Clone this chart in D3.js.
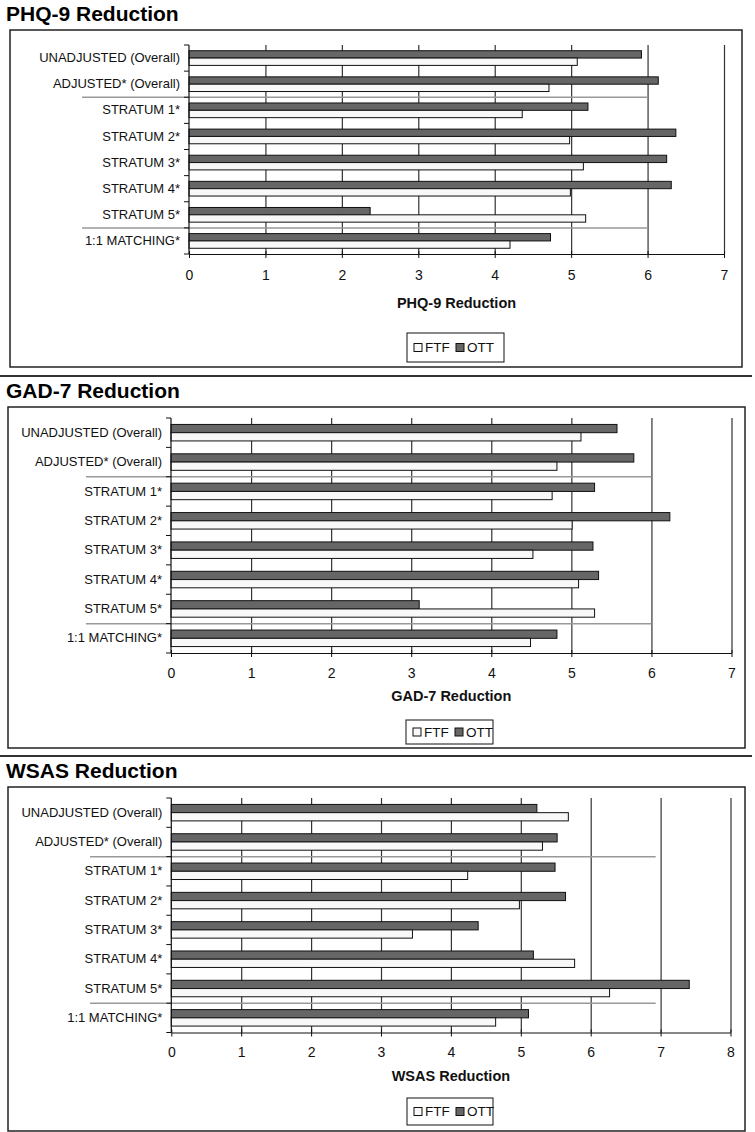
<!DOCTYPE html>
<html>
<head>
<meta charset="utf-8">
<script src="https://cdn.jsdelivr.net/npm/d3@7"></script>
<style>
	body { margin: 0; background: #fff; }
	svg { display: block; font-family: 'Liberation Sans', Arial, sans-serif; }
</style>
</head>
<body>
<div id="draw"></div>
<script>
// categories, top to bottom
const categories = [
	'UNADJUSTED (Overall)',
	'ADJUSTED* (Overall)',
	'STRATUM 1*',
	'STRATUM 2*',
	'STRATUM 3*',
	'STRATUM 4*',
	'STRATUM 5*',
	'1:1 MATCHING*'
];
const seriesNames = ['FTF', 'OTT'];

// values
const phqFTF = [5.08, 4.71, 4.36, 4.98, 5.16, 4.99, 5.19, 4.2];
const phqOTT = [5.92, 6.14, 5.22, 6.37, 6.25, 6.31, 2.37, 4.73];
const gadFTF = [5.12, 4.82, 4.76, 5.01, 4.52, 5.09, 5.29, 4.49];
const gadOTT = [5.57, 5.78, 5.29, 6.23, 5.27, 5.34, 3.1, 4.82];
const wsasFTF = [5.68, 5.31, 4.24, 4.98, 3.45, 5.77, 6.27, 4.64];
const wsasOTT = [5.23, 5.52, 5.49, 5.64, 4.39, 5.18, 7.41, 5.11];

const phqTicks = [0, 1, 2, 3, 4, 5, 6, 7];
const gadTicks = [0, 1, 2, 3, 4, 5, 6, 7];
const wsasTicks = [0, 1, 2, 3, 4, 5, 6, 7, 8];

// group separators sit after these category indexes
const groupBreaks = [2, 7];

const W = 755, H = 1132;

const svg = d3
	.select('#draw')
	.append('svg')
	.attr('width', W)
	.attr('height', H);

// panel layout (pixels)
const panels = [
	{
		title: 'PHQ-9 Reduction', axisTitle: 'PHQ-9 Reduction',
		ftf: phqFTF, ott: phqOTT, ticks: phqTicks, sepEnd: 6,
		titleY: 21, box: [10, 30, 742, 367],
		plot: { left: 189, right: 724, top: 45, bottom: 254 },
		sepLeft: 82, tickY: 275, axisTitleY: 303, legend: [407, 333, 504, 362]
	},
	{
		title: 'GAD-7 Reduction', axisTitle: 'GAD-7 Reduction',
		ftf: gadFTF, ott: gadOTT, ticks: gadTicks, sepEnd: 6,
		titleY: 398, box: [8, 407, 745, 748],
		plot: { left: 171, right: 731.5, top: 418, bottom: 653 },
		sepLeft: 86, tickY: 673, axisTitleY: 696, legend: [406, 720, 493, 744]
	},
	{
		title: 'WSAS Reduction', axisTitle: 'WSAS Reduction',
		ftf: wsasFTF, ott: wsasOTT, ticks: wsasTicks, sepEnd: 6.93,
		titleY: 778, box: [8, 787, 745, 1131],
		plot: { left: 171.3, right: 730.5, top: 798, bottom: 1032.5 },
		sepLeft: 90, tickY: 1051.5, axisTitleY: 1076, legend: [407, 1098, 493, 1125]
	}
];

// full width rules between panels
[376, 756].forEach(function (yy) {
	svg.append('line')
		.attr('x1', 0).attr('x2', 752)
		.attr('y1', yy).attr('y2', yy)
		.attr('stroke', '#333')
		.attr('stroke-width', 2);
});

panels.forEach(function (p) {
	var g = svg.append('g');

	// title
	g.append('text')
		.attr('x', 6)
		.attr('y', p.titleY)
		.style('font-size', '21px')
		.style('font-weight', 'bold')
		.text(p.title);

	// frame
	g.append('rect')
		.attr('x', p.box[0])
		.attr('y', p.box[1])
		.attr('width', p.box[2] - p.box[0])
		.attr('height', p.box[3] - p.box[1])
		.attr('fill', 'none')
		.attr('stroke', '#222')
		.attr('stroke-width', 1.5);

	var x = d3
		.scaleLinear()
		.domain([0, d3.max(p.ticks)])
		.range([p.plot.left, p.plot.right]);

	var y = d3
		.scaleBand()
		.domain(categories)
		.range([p.plot.top, p.plot.bottom])
		.paddingInner(0)
		.paddingOuter(0);

	// OTT drawn on top, FTF below (Excel reverse order)
	var sub = d3
		.scaleBand()
		.domain(['OTT', 'FTF'])
		.range([0, y.bandwidth()])
		.paddingInner(0)
		.paddingOuter(0.78);

	// vertical gridlines
	g.append('g')
		.attr('transform', 'translate(0,' + p.plot.bottom + ')')
		.call(
			d3.axisBottom(x)
				.tickValues(p.ticks.slice(1))
				.tickSize(-(p.plot.bottom - p.plot.top))
				.tickFormat('')
		)
		.call(function (s) {
			s.select('.domain').remove();
			s.selectAll('line').attr('stroke', '#333').attr('stroke-width', 1.2);
		});

	var rows = categories.map(function (c, i) {
		return { cat: c, FTF: p.ftf[i], OTT: p.ott[i] };
	});

	// bars
	['OTT', 'FTF'].forEach(function (s) {
		g.selectAll('.bar-' + s)
			.data(rows)
			.enter()
			.append('rect')
			.attr('class', 'bar-' + s)
			.attr('x', x(0))
			.attr('y', function (d) {
				return y(d.cat) + sub(s);
			})
			.attr('width', function (d) {
				return x(d[s]) - x(0);
			})
			.attr('height', sub.bandwidth())
			.attr('fill', s == 'OTT' ? '#666' : '#f8f8f8')
			.attr('stroke', '#111')
			.attr('stroke-width', 1);
	});

	// grey group separators
	groupBreaks.forEach(function (b) {
		var yy = y(categories[b]);
		g.append('line')
			.attr('x1', p.sepLeft)
			.attr('x2', x(p.sepEnd))
			.attr('y1', yy).attr('y2', yy)
			.attr('stroke', '#999')
			.attr('stroke-width', 1.5);
	});

	// y axis: line, boundary ticks, labels
	g.append('line')
		.attr('x1', x(0)).attr('x2', x(0))
		.attr('y1', p.plot.top).attr('y2', p.plot.bottom)
		.attr('stroke', '#111')
		.attr('stroke-width', 1.2);

	var bounds = categories.map(function (c) { return y(c); }).concat([p.plot.bottom]);
	g.selectAll('.ytick')
		.data(bounds)
		.enter()
		.append('line')
		.attr('class', 'ytick')
		.attr('x1', x(0) - 5).attr('x2', x(0))
		.attr('y1', function (d) { return d; })
		.attr('y2', function (d) { return d; })
		.attr('stroke', '#111');

	g.append('g')
		.attr('transform', 'translate(' + x(0) + ',0)')
		.call(d3.axisLeft(y).tickSize(0).tickPadding(9))
		.call(function (s) {
			s.select('.domain').remove();
			s.selectAll('text')
				.style('font-size', '13px')
				.style('font-family', "'Liberation Sans', Arial, sans-serif")
				.attr('fill', '#111');
		});

	// x axis
	g.append('g')
		.attr('transform', 'translate(0,' + p.plot.bottom + ')')
		.call(
			d3.axisBottom(x)
				.tickValues(p.ticks)
				.tickFormat(d3.format('d'))
				.tickSize(4)
				.tickSizeOuter(0)
		)
		.call(function (s) {
			s.select('.domain').attr('stroke', '#111').attr('stroke-width', 1.2);
			s.selectAll('.tick line').attr('y1', -3).attr('y2', 4).attr('stroke', '#111');
			s.selectAll('text')
				.attr('y', p.tickY - p.plot.bottom)
				.attr('dy', '0.36em')
				.style('font-size', '14px')
				.style('font-family', "'Liberation Sans', Arial, sans-serif")
				.attr('fill', '#111');
		});

	// axis title
	g.append('text')
		.attr('x', (p.plot.left + p.plot.right) / 2)
		.attr('y', p.axisTitleY)
		.attr('dy', '0.36em')
		.attr('text-anchor', 'middle')
		.style('font-size', '14.5px')
		.style('font-weight', 'bold')
		.attr('fill', '#111')
		.text(p.axisTitle);

	// legend
	var lx = p.legend[0], ly = p.legend[1];
	var lw = p.legend[2] - p.legend[0], lh = p.legend[3] - p.legend[1];
	var lg = g.append('g').attr('transform', 'translate(' + lx + ',' + ly + ')');
	lg.append('rect')
		.attr('width', lw).attr('height', lh)
		.attr('fill', '#fff')
		.attr('stroke', '#111');
	var offs = [7, 49];
	seriesNames.forEach(function (s, i) {
		lg.append('rect')
			.attr('x', offs[i])
			.attr('y', lh / 2 - 4)
			.attr('width', 8).attr('height', 8)
			.attr('fill', s == 'OTT' ? '#666' : '#f8f8f8')
			.attr('stroke', '#111');
		lg.append('text')
			.attr('x', offs[i] + 11)
			.attr('y', lh / 2)
			.attr('dy', '0.36em')
			.style('font-size', '13.5px')
			.attr('fill', '#111')
			.text(s);
	});
});
</script>
</body>
</html>
